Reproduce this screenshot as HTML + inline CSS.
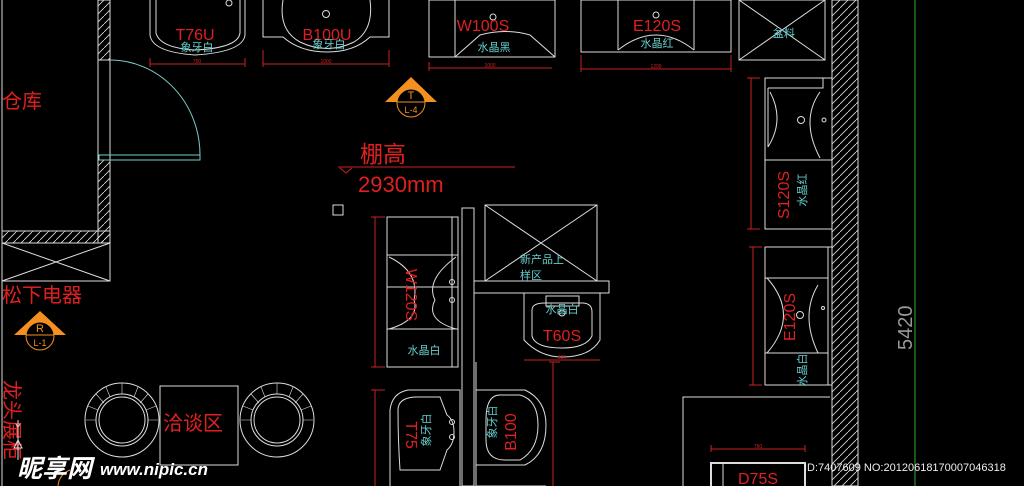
<!DOCTYPE html>
<html><head><meta charset="utf-8"><style>
html,body{margin:0;padding:0;background:#000;width:1024px;height:486px;overflow:hidden}
svg{display:block}
text{font-family:"Liberation Sans","Noto Sans CJK SC",sans-serif}
</style></head><body>
<svg width="1024" height="486" viewBox="0 0 1024 486" xmlns="http://www.w3.org/2000/svg">
<defs>
<pattern id="h" width="8" height="8" patternUnits="userSpaceOnUse">
<path d="M0 8 L8 0" stroke="#ddd" stroke-width="0.8"/>
</pattern>
</defs>
<rect width="1024" height="486" fill="#000"/>
<g fill="none" stroke="#ddd" stroke-width="1">
<line x1="2" y1="0" x2="2" y2="486"/>
<rect x="98" y="0" width="12" height="60" fill="url(#h)"/>
<rect x="98" y="160" width="12" height="83" fill="url(#h)"/>
<rect x="2" y="231" width="108" height="12" fill="url(#h)"/>
<line x1="98" y1="0" x2="98" y2="231"/>
<line x1="110" y1="0" x2="110" y2="243"/>
<rect x="2" y="243" width="108" height="38"/>
<path d="M2 243 L110 281 M2 281 L110 243"/>
<rect x="832" y="0" width="26" height="486" fill="url(#h)"/>
<path d="M150 0 L150 35 Q152 52 195 55 Q243 52 245 35 L245 0"/>
<path d="M156 0 L156 33 Q160 48 195 50 Q238 48 240 33 L240 0"/>
<circle cx="229" cy="3" r="3"/>
<path d="M263 0 L263 37 L283 37 Q300 52 327 52 Q354 52 370 37 L389 37 L389 0"/>
<path d="M283 0 Q278 30 300 42 Q327 55 354 42 Q374 30 370 0"/>
<circle cx="326" cy="14" r="3.5"/>
<rect x="429" y="0" width="126" height="57"/>
<path d="M455 57 L480 35 Q505 28 530 35 L555 57"/>
<path d="M455 0 L455 57"/>
<circle cx="493" cy="17" r="3"/>
<rect x="581" y="0" width="150" height="52"/>
<path d="M618 0 L618 50 M694 0 L694 50"/>
<path d="M618 50 Q656 20 694 50"/>
<circle cx="656" cy="15" r="3"/>
<rect x="739" y="0" width="86" height="60"/>
<path d="M739 0 L825 60 M825 0 L739 60"/>
<rect x="765" y="78" width="67" height="151"/>
<path d="M768 88 L823 88 L823 78 M768 88 L768 147 M765 160 L832 160"/>
<path d="M770 92 Q785 120 768 147 M820 92 Q800 120 820 158"/>
<circle cx="801" cy="120" r="3.5"/><circle cx="824" cy="120" r="2"/>
<rect x="765" y="247" width="67" height="138"/>
<path d="M765 278 L828 278 M765 353 L828 353 M828 247 L828 385"/>
<path d="M767 278 Q800 315 767 353 M818 285 Q800 315 818 353"/>
<circle cx="800" cy="315" r="3.5"/><circle cx="823" cy="308" r="1.5"/>
<path d="M683 486 L683 397 L830 397"/>
<rect x="711" y="463" width="94" height="30" stroke-width="2"/>
<line x1="723" y1="463" x2="723" y2="486"/>
<rect x="99" y="155" width="101" height="5" stroke="#7cc"/>
<path d="M110 60 A90 95 0 0 1 200 155" stroke="#7cc"/>
<rect x="333" y="205" width="10" height="10"/>
<rect x="462" y="208" width="12" height="278"/>
<rect x="387" y="217" width="71" height="150"/>
<path d="M387 255 L458 255 M387 287 L458 287 M452 217 L452 367"/>
<path d="M389 257 Q420 272 414 300 Q420 320 389 329 M456 257 Q425 280 435 300 Q425 320 456 329 M387 329 L458 329"/>
<circle cx="452" cy="282" r="2.5"/><circle cx="452" cy="300" r="2.5"/>
<rect x="485" y="205" width="112" height="76"/>
<path d="M485 205 L597 281 M597 205 L485 281"/>
<rect x="474" y="281" width="135" height="12"/>
<path d="M524 293 L524 340 Q540 357 562 357 Q590 357 600 340 L600 293"/>
<path d="M532 310 Q532 303 545 303 L582 303 Q592 303 592 312 L592 336 Q586 348 562 348 Q535 348 532 336 Z"/>
<rect x="546" y="296" width="33" height="10"/>
<circle cx="562" cy="313" r="3"/>
<path d="M390 486 L390 410 Q392 393 408 390 L460 390 L460 486"/>
<path d="M398 410 Q398 398 415 397 L440 397 L447 415 Q454 420 454 432 Q454 444 447 450 L440 470 L400 470 Q398 440 398 410"/>
<circle cx="452" cy="422" r="2.5"/><circle cx="452" cy="437" r="2.5"/>
<path d="M476 362 L476 486 M476 390 L525 390 Q546 400 546 425 Q546 455 525 465 L476 465 M476 486 L546 486"/>
<path d="M500 395 Q486 395 486 420 L486 440 Q486 460 505 460 L520 460 Q538 450 538 425 Q538 400 520 395 Z"/>
<circle cx="122" cy="420" r="37"/><circle cx="122" cy="420" r="26"/><circle cx="122" cy="420" r="23"/>
<circle cx="277" cy="420" r="37"/><circle cx="277" cy="420" r="26"/><circle cx="277" cy="420" r="23"/>
<rect x="160" y="386" width="78" height="79"/>
<g stroke-width="0.6">
<path d="M96 394 L104 403 M106 387 L110 397 M122 383 L122 394 M138 387 L134 397 M148 394 L140 403 M156 406 L146 410 M88 406 L98 410 M86 420 L96 420 M158 420 L148 420"/>
<path d="M251 394 L259 403 M261 387 L265 397 M277 383 L277 394 M293 387 L289 397 M303 394 L295 403 M311 406 L301 410 M243 406 L253 410 M241 420 L251 420 M313 420 L303 420"/>
</g>
</g>
<line x1="915" y1="0" x2="915" y2="486" stroke="#3a3" stroke-width="1"/>
<g stroke="#c22" stroke-width="1" fill="none">
<path d="M150 64 L245 64 M150 58 L150 67 M245 58 L245 67"/>
<path d="M263 64 L389 64 M263 50 L263 67 M389 50 L389 67"/>
<path d="M429 68 L552 68 M429 62 L429 71"/>
<path d="M581 69 L731 69 M581 55 L581 72 M731 55 L731 72"/>
<path d="M751 78 L751 229 M747 78 L760 78 M747 229 L760 229"/>
<path d="M753 247 L753 385 M749 247 L762 247 M749 385 L762 385"/>
<path d="M711 449 L805 449 M711 445 L711 452 M805 445 L805 452"/>
<path d="M375 217 L375 367 M371 217 L385 217 M371 367 L385 367"/>
<path d="M375 390 L375 486 M371 390 L385 390"/>
<path d="M524 360 L600 360"/>
<path d="M553 362 L553 486 M549 362 L560 362"/>
<path d="M338 167 L515 167 M340 168 L346 173 L352 168"/>
</g>
<g fill="#c22" font-size="5" text-anchor="middle">
<text x="197" y="63">750</text><text x="326" y="63">1000</text><text x="490" y="67">1000</text>
<text x="656" y="68">1200</text><text x="758" y="448">750</text><text x="562" y="359">500</text>
</g>
<g fill="#e02020" text-anchor="middle">
<text x="195" y="40" font-size="16">T76U</text>
<text x="327" y="40" font-size="16">B100U</text>
<text x="483" y="31" font-size="16">W100S</text>
<text x="657" y="31" font-size="16">E120S</text>
<text x="562" y="341" font-size="16">T60S</text>
<text x="758" y="484" font-size="16">D75S</text>
<text transform="translate(789,195) rotate(-90)" font-size="16">S120S</text>
<text transform="translate(795,317) rotate(-90)" font-size="16">E120S</text>
<text transform="translate(406,295) rotate(90)" font-size="16">W120S</text>
<text transform="translate(406,435) rotate(90)" font-size="16">T75</text>
<text transform="translate(516,432) rotate(-90)" font-size="16">B100</text>
</g>
<g fill="#e02020" font-size="20">
<text x="2" y="108">仓库</text>
<text x="2" y="302">松下电器</text>
<text x="163" y="430">洽谈区</text>
<text x="360" y="162" font-size="23">棚高</text>
<text x="358" y="192" font-size="22">2930mm</text>
<text transform="translate(5,380) rotate(90)" font-size="20">龙头展柜</text>
</g>
<g fill="#6cc" font-size="11" text-anchor="middle">
<text x="197" y="51">象牙白</text>
<text x="329" y="48">象牙白</text>
<text x="494" y="51">水晶黑</text>
<text x="657" y="47">水晶红</text>
<text x="784" y="37">盆料</text>
<text x="424" y="354">水晶白</text>
<text x="562" y="313">水晶白</text>
<text x="520" y="263" style="text-anchor:start">新产品上</text>
<text x="520" y="279" style="text-anchor:start">样区</text>
<text transform="translate(806,190) rotate(-90)">水晶红</text>
<text transform="translate(806,370) rotate(-90)">水晶白</text>
<text transform="translate(430,430) rotate(-90)">象牙白</text>
<text transform="translate(496,422) rotate(-90)">象牙白</text>
</g>
<g>
<path d="M411 77 L437 102 L385 102 Z" fill="#f39020"/>
<circle cx="411" cy="103" r="14" fill="#000" stroke="#f39020" stroke-width="1"/>
<line x1="397" y1="102" x2="425" y2="102" stroke="#f39020"/>
<text x="411" y="99" font-size="11" fill="#f39020" text-anchor="middle">T</text>
<text x="411" y="113" font-size="9" fill="#f39020" text-anchor="middle">L-4</text>
<path d="M40 311 L66 335 L14 335 Z" fill="#f39020"/>
<circle cx="40" cy="336" r="14" fill="#000" stroke="#f39020"/>
<line x1="26" y1="335" x2="54" y2="335" stroke="#f39020"/>
<text x="40" y="332" font-size="11" fill="#f39020" text-anchor="middle">R</text>
<text x="40" y="346" font-size="9" fill="#f39020" text-anchor="middle">L-1</text>
<path d="M58 486 A18 18 0 0 1 70 470" fill="none" stroke="#f39020"/>
</g>
<text transform="translate(912,350) rotate(-90)" font-size="20" fill="#999">5420</text>
<path d="M18 420 L18 460 M14 448 L18 440 L22 448 Z" stroke="#ddd" fill="none"/>
<text x="15" y="430" font-size="9" fill="#ddd">Y</text>
<text x="17" y="477" font-size="25" font-weight="bold" font-style="italic" fill="#fff">昵享网</text>
<text x="100" y="475" font-size="17" font-weight="bold" font-style="italic" fill="#fff">www.nipic.cn</text>
<text x="804" y="471" font-size="11" fill="#eee">ID:7407609 NO:20120618170007046318</text>
</svg>
</body></html>
